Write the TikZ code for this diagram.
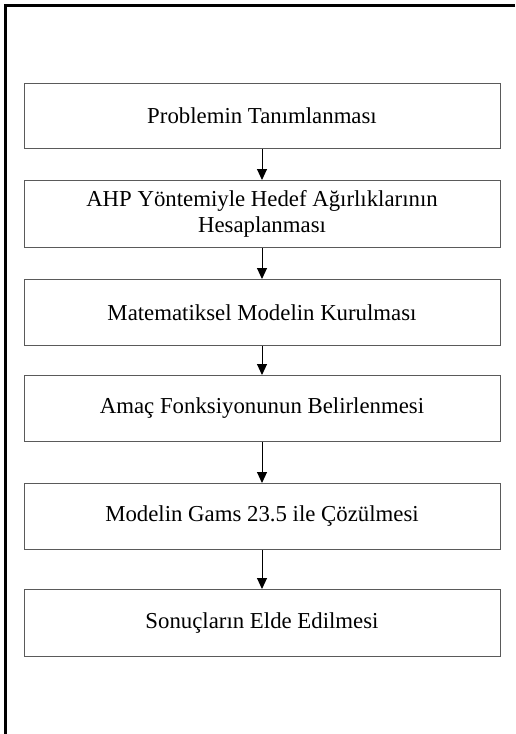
\documentclass[tikz,border=0pt]{standalone}
\usepackage{fontspec}
\setmainfont{Liberation Serif}
\usepackage{tikz}
\usetikzlibrary{
  arrows.meta,
  positioning
}
\definecolor{boxline}{RGB}{90, 90, 90}
\tikzset{
  stepbox/.style = {
    rectangle, draw=boxline, line width=1pt,
    fill=white, minimum width=476pt, minimum height=#1,
    align=center, inner sep=2pt,
    font=\fontsize{22.8}{26.5}\selectfont
  },
  stepbox/.default = 66pt,
  arr/.style = {-{Triangle[length=11pt, width=10pt]}, draw=black,
                line width=1pt},
  frame/.style = {draw=black, line width=2.5pt},
}
\begin{document}
\begin{tikzpicture}[x=1pt, y=-1pt]

  %% -- page and outer frame ------------------------------------------------
  \clip (0,0) rectangle (515,734);
  \fill[white] (0,0) rectangle (515,734);
  \coordinate (ftop) at (515,5.5);
  \coordinate (fcorner) at (5.5,5.5);
  \coordinate (fbottom) at (5.5,734);
  \draw[frame] (ftop) -- (fcorner) -- (fbottom);

  %% -- steps ---------------------------------------------------------------
  \node[stepbox=65pt, anchor=north] (problem) at (262,83)
    {Problemin Tanımlanması};
  \node[stepbox=67pt, below=31pt of problem] (ahp)
    {AHP Yöntemiyle Hedef Ağırlıklarının\\Hesaplanması};
  \node[stepbox, below=31pt of ahp] (model)
    {Matematiksel Modelin Kurulması};
  \node[stepbox, below=29pt of model] (objective)
    {Amaç Fonksiyonunun Belirlenmesi};
  \node[stepbox, below=41pt of objective] (gams)
    {Modelin Gams 23.5 ile Çözülmesi};
  \node[stepbox=67pt, below=39pt of gams] (results)
    {Sonuçların Elde Edilmesi};

  %% -- arrows --------------------------------------------------------------
  \draw[arr] (problem) -- (ahp);
  \draw[arr] (ahp) -- (model);
  \draw[arr] (model) -- (objective);
  \draw[arr] (objective) -- (gams);
  \draw[arr] (gams) -- (results);

\end{tikzpicture}
\end{document}
